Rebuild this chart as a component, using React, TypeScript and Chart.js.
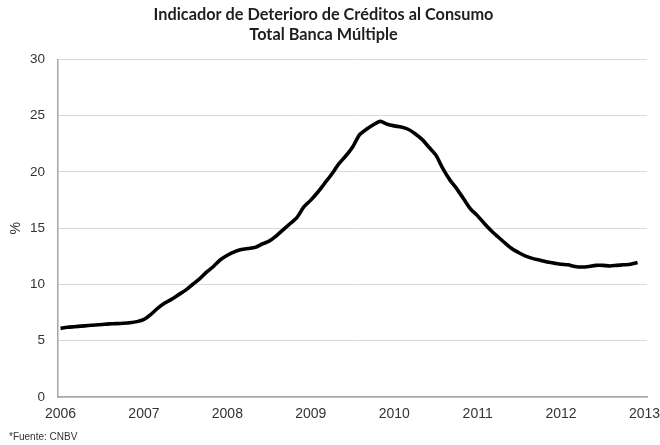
import React, { useEffect, useRef } from "react";
import { Chart, registerables } from "chart.js";

Chart.register(...registerables);

const titleLines = ["Indicador de Deterioro de Créditos al Consumo", "Total Banca Múltiple"];
const yAxisLabel = "%";
const sourceNote = "*Fuente: CNBV";
const startYear = 2006;
const yearTicks = [2006, 2007, 2008, 2009, 2010, 2011, 2012, 2013];
const yTicks = [0, 5, 10, 15, 20, 25, 30];

// Monthly values, Jan 2006 - Dec 2012 (%)
const values2006 = [6.1, 6.2, 6.25, 6.3, 6.35, 6.4, 6.45, 6.5, 6.52, 6.55, 6.6, 6.7];
const values2007 = [6.9, 7.35, 7.9, 8.35, 8.7, 9.1, 9.5, 10.0, 10.5, 11.1, 11.6, 12.2];
const values2008 = [12.6, 12.9, 13.1, 13.2, 13.3, 13.6, 13.85, 14.3, 14.85, 15.4, 15.95, 16.9];
const values2009 = [17.5, 18.2, 19.0, 19.8, 20.7, 21.4, 22.2, 23.3, 23.8, 24.2, 24.5, 24.25];
const values2010 = [24.1, 24.0, 23.8, 23.4, 22.9, 22.2, 21.5, 20.3, 19.3, 18.5, 17.6, 16.7];
const values2011 = [16.1, 15.4, 14.75, 14.2, 13.65, 13.15, 12.8, 12.5, 12.3, 12.15, 12.0, 11.9];
const values2012 = [11.8, 11.75, 11.6, 11.55, 11.6, 11.7, 11.7, 11.65, 11.7, 11.75, 11.8, 11.95];

const values = [
  ...values2006,
  ...values2007,
  ...values2008,
  ...values2009,
  ...values2010,
  ...values2011,
  ...values2012,
];

export default function App() {
  const canvasRef = useRef<HTMLCanvasElement | null>(null);

  useEffect(() => {
    const canvas = canvasRef.current;
    if (!canvas) return;
    const chart = new Chart(canvas, {
      type: "line",
      data: {
        datasets: [
          {
            label: "Indicador",
            data: values.map((v, i) => ({ x: startYear + i / 12, y: v })),
            borderColor: "#000000",
            borderWidth: 3.6,
            pointRadius: 0,
            tension: 0.25,
            fill: false,
          },
        ],
      },
      options: {
        responsive: false,
        animation: false,
        layout: { padding: { left: 0, right: 13, top: 0, bottom: 18 } },
        plugins: {
          legend: { display: false },
          tooltip: { enabled: false },
          title: {
            display: true,
            text: titleLines,
            color: "#1f1f1f",
            font: { family: "Lato", size: 16.3, weight: "bold", lineHeight: 1.23 },
            padding: { top: 5, bottom: 14.4 },
          },
        },
        scales: {
          x: {
            type: "linear",
            min: yearTicks[0] - 0.03,
            max: yearTicks[yearTicks.length - 1] + 0.03,
            afterBuildTicks: (s: any) => {
              s.ticks = yearTicks.map((value) => ({ value }));
            },
            afterFit: (s: any) => {
              s.height = 30;
              s.paddingLeft = 0;
              s.paddingRight = 0;
            },
            ticks: {
              callback: (v: any) => String(v),
              font: { family: "Liberation Sans", size: 14 },
              color: "#333333",
              padding: 9,
              maxRotation: 0,
              autoSkip: false,
            },
            grid: { display: false, drawTicks: false },
            border: { display: true, color: "#a6a6a6", width: 1.5 },
          },
          y: {
            min: 0,
            max: 30,
            afterBuildTicks: (s: any) => {
              s.ticks = yTicks.map((value) => ({ value }));
            },
            afterFit: (s: any) => {
              s.width = 58;
              s.paddingTop = 0;
              s.paddingBottom = 0;
            },
            ticks: {
              font: { family: "Liberation Sans", size: 13.5 },
              color: "#333333",
              padding: 13,
            },
            grid: { color: "#d9d9d9", lineWidth: 1, drawTicks: false },
            border: { display: true, color: "#a6a6a6", width: 1.5 },
            title: {
              display: true,
              text: yAxisLabel,
              color: "#333333",
              font: { family: "Liberation Sans", size: 14 },
              padding: { top: 7.5, bottom: 0 },
            },
          },
        },
      },
    });
    return () => chart.destroy();
  }, []);

  return (
    <div style={{ position: "fixed", left: 0, top: 0, width: 660, height: 445, background: "#fff" }}>
      <canvas ref={canvasRef} width={660} height={445} style={{ width: 660, height: 445, display: "block" }} />
      <div
        style={{
          position: "absolute",
          left: 9,
          top: 431,
          fontFamily: "Liberation Sans, Arial, sans-serif",
          fontSize: 10,
          lineHeight: "12px",
          color: "#333333",
          whiteSpace: "nowrap",
        }}
      >
        {sourceNote}
      </div>
    </div>
  );
}
